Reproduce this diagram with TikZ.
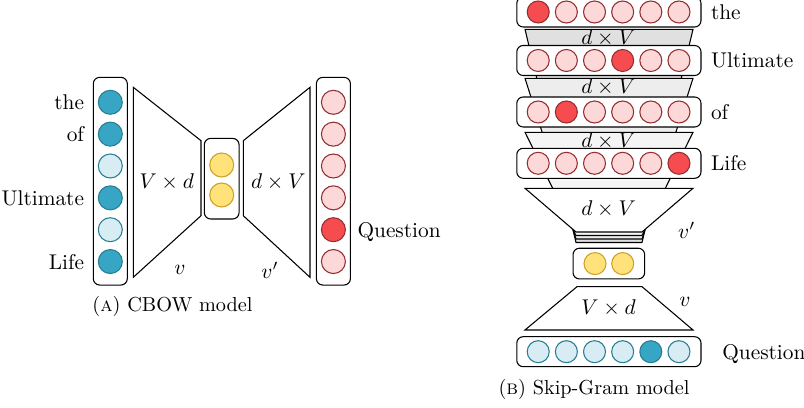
\documentclass[tikz,border=0pt]{standalone}
\usepackage{amsmath}
\usepackage{xcolor}
\usetikzlibrary{positioning}
\definecolor{wordblue}{RGB}{54, 166, 196}
\definecolor{wordred}{RGB}{246, 76, 80}
\definecolor{hiddenyellow}{RGB}{255, 227, 122}
\definecolor{hiddenedge}{RGB}{205, 160, 40}

\begin{document}
\begin{tikzpicture}[
    x=0.469pt, y=-0.469pt, line width=0.5pt,
    bit/.style={circle, draw=#1!75!black, inner sep=0pt, minimum size=11.26pt},
    rbit/.style={circle, draw=wordred!60!black, inner sep=0pt, minimum size=#1},
    sbit/.style={bit=#1, minimum size=10.32pt},
    hidbit/.style={circle, draw=hiddenedge, fill=hiddenyellow, inner sep=0pt, minimum size=#1},
    vecbox/.style={rectangle, rounded corners=3pt, draw=black, fill=white, inner sep=0pt},
    word/.style={inner sep=0pt, text depth=0pt},
    caption/.style={font=\fontsize{9.5}{11}\selectfont}
]
\useasboundingbox (0,0) rectangle (804,408);

% CBOW: weight matrices
\draw (133.3,87.3) -- (201,140.7) -- (201,215.7) -- (133.3,277.3) -- cycle;
\draw (243.3,140.7) -- (310,87.3) -- (310,277.3) -- (243.3,215.7) -- cycle;
\node (cvd) at (166.7,181.7) {$V \times d$};
\node (cdv) at (278.3,181.7) {$d \times V$};
\node (cv) at (180,270) {$v$};
\node (cvp) at (270,270) {$v'$};

% CBOW: context words
\node[vecbox, minimum width=15.95pt, minimum height=97.4pt] (ctxin) at (110.3,181.2) {};
\foreach \i/\f in {1/wordblue, 2/wordblue, 3/wordblue!20, 4/wordblue, 5/wordblue!20, 6/wordblue}
    \node[bit=wordblue, fill=\f] (cin\i) at (110.3,70.45+31.85*\i) {};
\node[word, left=6.2pt of cin1] (lthe) {the};
\node[word, left=6.2pt of cin2] (lof) {of};
\node[word, left=6.2pt of cin4] (lult) {Ultimate};
\node[word, left=6.2pt of cin6] (llife) {Life};

% CBOW: hidden layer
\node[vecbox, minimum width=16.3pt, minimum height=37.8pt] (chid) at (221.7,178.7) {};
\node[hidbit=11.26pt] (ch1) at (221.7,165) {};
\node[hidbit=11.26pt] (ch2) at (221.7,195) {};

% CBOW: centre word
\node[vecbox, minimum width=15.95pt, minimum height=97.4pt] (ctxout) at (333.4,181.2) {};
\foreach \i/\f in {1/wordred!22, 2/wordred!22, 3/wordred!22, 4/wordred!22, 5/wordred, 6/wordred!22}
    \node[rbit=11.26pt, fill=\f] (cout\i) at (333.4,70.45+31.85*\i) {};
\node[word, right=5.2pt of cout5] (lques) {Question};

\node[caption] (capa) at (172.5,306.7) {(\textsc{a}) CBOW model};

% Skip-Gram: stacked output matrices
\foreach \t/\f/\b in {29.3/black!12/242.5, 78.3/black!7/239, 132.3/black!4/235.5} {
    \draw[fill=\f] (525,\t) -- (693,\t) -- (642,\b) -- (576,\b) -- cycle;
    \node at (608.5,\t+8.5) {$d \times V$};
}
\draw[fill=white] (525,188.3) -- (693,188.3) -- (642,232) -- (576,232) -- cycle;
\node (sdv) at (608.5,209.3) {$d \times V$};
\node (svp) at (686.7,230) {$v'$};

% Skip-Gram: context words
\foreach \r/\y/\k/\w in {1/12/1/the, 2/60.5/4/Ultimate, 3/112/2/of, 4/163.3/6/Life} {
    \node[vecbox, minimum width=86.4pt, minimum height=14.07pt] (srow\r) at (608.9,\y) {};
    \foreach \j [evaluate=\j as \p using {int(\j==\k ? 100 : 22)}] in {1,...,6}
        \node[rbit=10.32pt, fill=wordred!\p] (s\r b\j) at (510.05+28.15*\j,\y) {};
    \node[word, right=4.2pt of srow\r] (sw\r) {\w};
}

% Skip-Gram: hidden layer
\node[vecbox, minimum width=33.6pt, minimum height=14.4pt] (shid) at (608.85,263.6) {};
\node[hidbit=10.32pt] (sh1) at (595,263.6) {};
\node[hidbit=10.32pt] (sh2) at (622.7,263.6) {};

% Skip-Gram: input matrix
\draw (577,286.7) -- (642,286.7) -- (693,330) -- (525,330) -- cycle;
\node (svd) at (608.5,308.3) {$V \times d$};
\node (sv) at (685,301.7) {$v$};

% Skip-Gram: centre word
\node[vecbox, minimum width=86.4pt, minimum height=14.07pt] (sin) at (608.9,351.7) {};
\foreach \j/\f in {1/wordblue!20, 2/wordblue!20, 3/wordblue!20, 4/wordblue!20, 5/wordblue, 6/wordblue!20}
    \node[sbit=wordblue, fill=\f] (sin\j) at (510.05+28.15*\j,351.7) {};
\node[word, right=9.5pt of sin] (sques) {Question};

\node[caption] (capb) at (594,389.3) {(\textsc{b}) Skip-Gram model};

\end{tikzpicture}
\end{document}
